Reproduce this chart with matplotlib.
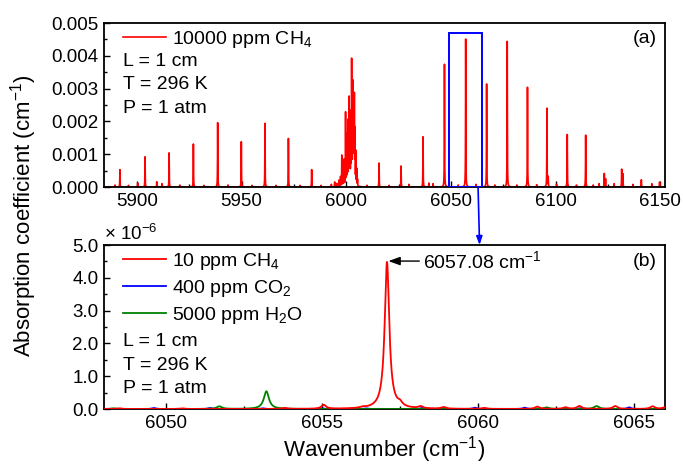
import numpy as np
import matplotlib
matplotlib.use("Agg")
import matplotlib.pyplot as plt
from matplotlib.patches import Rectangle
from matplotlib.ticker import MultipleLocator, FuncFormatter

plt.rcParams['font.family'] = ['Liberation Sans', 'DejaVu Sans']
plt.rcParams['mathtext.fontset'] = 'custom'
plt.rcParams['mathtext.rm'] = 'Liberation Sans'
plt.rcParams['mathtext.it'] = 'Liberation Sans:italic'
plt.rcParams['mathtext.bf'] = 'Liberation Sans:bold'

# ---- panel (a): 10000 ppm CH4, line centres (cm-1) and peak heights (cm-1)
ch4_wide_pos = [5889.6, 5891.9, 5896.0, 5900.4, 5903.9, 5909.5, 5912.0, 5915.4,
                5920.5, 5927.0, 5932.0, 5938.6, 5943.5, 5949.9, 5955.0, 5961.2,
                5966.5, 5972.4, 5978.0, 5983.5, 5988.0,
                5992.9, 5994.5, 5995.5, 5996.5, 5997.3, 5997.9, 5998.5, 5999.0,
                5999.7, 6000.2, 6000.6, 6001.0, 6001.4, 6001.8, 6002.2, 6002.6,
                6003.0, 6003.3, 6003.6, 6003.9, 6004.2, 6004.6, 6005.0, 6005.4,
                6010.0, 6015.7, 6020.5, 6026.2, 6030.0, 6036.7, 6039.5, 6041.5,
                6046.95, 6053.5, 6057.08, 6062.0, 6067.08, 6071.0, 6076.93,
                6081.5, 6086.6, 6091.0, 6095.9, 6096.5, 6100.5, 6105.6, 6110.0,
                6114.4, 6118.0, 6120.8, 6123.3, 6123.9, 6128.0, 6131.6, 6132.2,
                6137.0, 6141.0, 6146.0, 6149.7]
ch4_wide_h = [0.00006, 0.00053, 0.00005, 0.00012, 0.00092, 0.00016, 0.00010, 0.00104,
              0.00006, 0.00131, 0.00005, 0.00196, 0.00006, 0.00138, 0.00005, 0.00194,
              0.00005, 0.00148, 0.00005, 0.00053, 0.00005,
              0.00008, 0.00015, 0.00010, 0.00020, 0.00030, 0.00095, 0.00050, 0.00080,
              0.00223, 0.00120, 0.00150, 0.00190, 0.00260, 0.00180, 0.00210, 0.00370,
              0.00280, 0.00290, 0.00220, 0.00260, 0.00160, 0.00100, 0.00050, 0.00020,
              0.00005, 0.00073, 0.00005, 0.00064, 0.00008, 0.00153, 0.00012, 0.00010,
              0.00374, 0.00006, 0.00451, 0.00008, 0.00314, 0.00006, 0.00444,
              0.00006, 0.00304, 0.00007, 0.00240, 0.00030, 0.00008, 0.00160, 0.00006,
              0.00158, 0.00006, 0.00010, 0.00041, 0.00025, 0.00010, 0.00054, 0.00040,
              0.00008, 0.00022, 0.00010, 0.00015]

# ---- panel (b): line centres (cm-1) and peak heights (x 1e-6 cm-1)
ch4_pos = [6048.5, 6050.5, 6053.8, 6055.05, 6056.3, 6057.08, 6057.5, 6058.16,
           6058.9, 6060.2, 6061.9, 6062.8, 6063.25, 6064.4, 6065.6, 6066.0]
ch4_h = [0.02, 0.02, 0.03, 0.12, 0.03, 4.48, 0.10, 0.06,
         0.05, 0.03, 0.07, 0.05, 0.09, 0.09, 0.08, 0.05]
co2_pos = [6049.6, 6051.4, 6053.1, 6055.0, 6056.4, 6058.2, 6059.9, 6061.5,
           6063.3, 6064.85]
co2_h = [0.03, 0.03, 0.02, 0.02, 0.02, 0.03, 0.04, 0.04, 0.03, 0.05]
h2o_pos = [6048.3, 6051.7, 6053.21, 6062.2, 6063.8]
h2o_h = [0.02, 0.08, 0.54, 0.05, 0.09]

peak_label = "6057.08 cm$^{-1}$"


def lorentz_sum(x, centres, heights, hwhm):
    y = np.zeros_like(x)
    for c, h in zip(centres, heights):
        y += h * hwhm**2 / ((x - c)**2 + hwhm**2)
    return y


nu_a = np.arange(5884.0, 6152.5, 0.005)
k_a = lorentz_sum(nu_a, ch4_wide_pos, ch4_wide_h, 0.07)

nu_b = np.arange(6048.0, 6066.0, 0.002)
k_ch4 = lorentz_sum(nu_b, ch4_pos, ch4_h, 0.088)
k_co2 = lorentz_sum(nu_b, co2_pos, co2_h, 0.07)
k_h2o = lorentz_sum(nu_b, h2o_pos, h2o_h, 0.1)

W, H = 683, 465
fig = plt.figure(figsize=(W / 100, H / 100), dpi=100)
ax1 = fig.add_axes([104 / W, 1 - 187 / H, 561 / W, 164 / H])
ax2 = fig.add_axes([104 / W, 1 - 409 / H, 561 / W, 164 / H])

fs_tick = 13.5
fs_leg = 14

for ax in (ax1, ax2):
    for sp in ax.spines.values():
        sp.set_linewidth(1.3)
    ax.tick_params(which='both', direction='in', top=False, right=False,
                   labelsize=fs_tick, pad=4)
    ax.tick_params(which='major', length=4.5, width=1)
    ax.tick_params(which='minor', length=2.5, width=1)

# (a)
ax1.plot(nu_a, k_a, color='#ff0000', lw=1.2, label="10000 ppm CH$_4$")
ax1.set_xlim(5884.3, 6152.3)
ax1.set_ylim(0, 0.005)
ax1.xaxis.set_major_locator(MultipleLocator(50))
ax1.xaxis.set_minor_locator(MultipleLocator(25))
ax1.yaxis.set_major_locator(MultipleLocator(0.001))
ax1.yaxis.set_minor_locator(MultipleLocator(0.0005))
ax1.yaxis.set_major_formatter(FuncFormatter(lambda v, p: "%.3f" % v))
ax1.legend(loc='upper left', bbox_to_anchor=(0.023, 1.0), frameon=False,
           fontsize=fs_leg, handlelength=2.2, handletextpad=0.35,
           borderaxespad=0.0, borderpad=0.3)
for yy, t in zip([0.764, 0.622, 0.48], ["L = 1 cm", "T = 296 K", "P = 1 atm"]):
    ax1.text(0.033, yy, t, transform=ax1.transAxes, fontsize=fs_leg, va='center')
ax1.text(0.985, 0.905, "(a)", transform=ax1.transAxes, fontsize=fs_leg,
         ha='right', va='center')

box_x0, box_x1, box_top = 6049.3, 6064.8, 0.0047
ax1.add_patch(Rectangle((box_x0, 0), box_x1 - box_x0, box_top, fill=False,
                        edgecolor='#0000ff', lw=1.4, zorder=5))

# (b)
ax2.plot(nu_b, k_ch4, color='#ff0000', lw=1.3, label="10 ppm CH$_4$", zorder=4)
ax2.plot(nu_b, k_co2, color='#0000ff', lw=1.3, label="400 ppm CO$_2$", zorder=2)
ax2.plot(nu_b, k_h2o, color='#008000', lw=1.3, label="5000 ppm H$_2$O", zorder=3)
ax2.set_xlim(6048, 6066)
ax2.set_ylim(0, 5.0)
ax2.xaxis.set_major_locator(MultipleLocator(5))
ax2.xaxis.set_minor_locator(MultipleLocator(2.5))
ax2.yaxis.set_major_locator(MultipleLocator(1.0))
ax2.yaxis.set_minor_locator(MultipleLocator(0.5))
ax2.yaxis.set_major_formatter(FuncFormatter(lambda v, p: "%.1f" % v))
ax2.legend(loc='upper left', bbox_to_anchor=(0.023, 1.0), frameon=False,
           fontsize=fs_leg, handlelength=2.2, handletextpad=0.35,
           borderaxespad=0.0, borderpad=0.3, labelspacing=0.3)
for yy, t in zip([0.41, 0.268, 0.126], ["L = 1 cm", "T = 296 K", "P = 1 atm"]):
    ax2.text(0.033, yy, t, transform=ax2.transAxes, fontsize=fs_leg, va='center')
ax2.text(0.985, 0.9, "(b)", transform=ax2.transAxes, fontsize=fs_leg,
         ha='right', va='center')
ax2.text(0.0, 1.005, "\u00d7 10$^{-6}$", transform=ax2.transAxes,
         fontsize=fs_tick, ha='left', va='bottom')

ax2.annotate(peak_label, xy=(6057.08, 4.51), xytext=(6058.25, 4.51),
             fontsize=fs_leg, va='center', ha='left',
             arrowprops=dict(arrowstyle='-|>,head_length=0.5,head_width=0.18',
                             color='black', lw=1.0, shrinkA=1, shrinkB=1))

# blue arrow from the zoom box to panel (b)
ax2.annotate('', xy=(6060.05, 5.0), xycoords='data',
             xytext=(6063.0, 0), textcoords=ax1.transData,
             arrowprops=dict(arrowstyle='-|>,head_length=0.5,head_width=0.18',
                             color='#0000ff', lw=1.2, shrinkA=0, shrinkB=0),
             annotation_clip=False)

fig.text(24 / W, 1 - 216 / H, "Absorption coefficient (cm$^{-1}$)",
         rotation=90, ha='center', va='center', fontsize=16)
fig.text(384.5 / W, 1 - 450 / H, "Wavenumber (cm$^{-1}$)",
         ha='center', va='center', fontsize=16)

fig.savefig("out.png", dpi=100)
